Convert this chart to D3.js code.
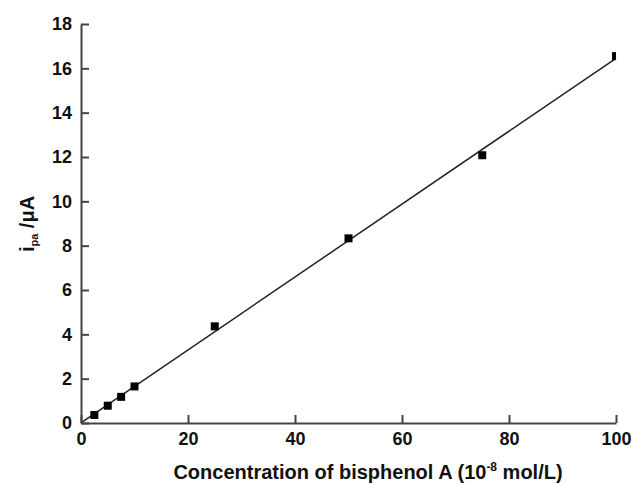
<!DOCTYPE html>
<html>
<head>
<meta charset="utf-8">
<script src="https://cdn.jsdelivr.net/npm/d3@7"></script>
<style>
  body { margin: 0; background: #fff; }
  svg { display: block; font-family: "Liberation Sans", Arial, sans-serif; }
</style>
</head>
<body>
<div id="chart"></div>
<script>
// concentration of bisphenol A (10^-8 mol/L)
const concentrations = [2.5, 5, 7.5, 10, 25, 50, 75, 100];
// anodic peak current (uA)
const currents = [0.36, 0.78, 1.18, 1.65, 4.36, 8.33, 12.08, 16.55];

const xTicks = [0, 20, 40, 60, 80, 100];
const yTicks = [0, 2, 4, 6, 8, 10, 12, 14, 16, 18];

const W = 636, H = 483;
const margin = { top: 24, right: 20, bottom: 60, left: 81 };
const width = W - margin.left - margin.right;
const height = H - margin.top - margin.bottom;

const svg = d3.select('#chart').append('svg')
    .attr('width', W).attr('height', H);

const g = svg.append('g')
    .attr('transform', `translate(${margin.left},${margin.top})`);

const x = d3.scaleLinear().domain([0, 100]).range([0, width]);
const y = d3.scaleLinear().domain([0, 18]).range([height, 0]);

// clip so the last marker is cut at the frame edge like the original
svg.append('defs').append('clipPath').attr('id', 'plot-clip')
    .append('rect').attr('x', 0).attr('y', -10).attr('width', width).attr('height', height + 10);

// least squares fit through the points
const mx = d3.mean(concentrations), my = d3.mean(currents);
let sxy = 0, sxx = 0;
concentrations.forEach((c, i) => { sxy += (c - mx) * (currents[i] - my); sxx += (c - mx) ** 2; });
const slope = sxy / sxx, intercept = my - slope * mx;

g.append('line')
    .attr('x1', x(0)).attr('y1', y(intercept))
    .attr('x2', x(100)).attr('y2', y(intercept + slope * 100))
    .attr('stroke', '#222').attr('stroke-width', 1.5);

g.append('g').attr('clip-path', 'url(#plot-clip)')
  .selectAll('rect.pt')
  .data(concentrations)
  .join('rect')
    .attr('class', 'pt')
    .attr('x', d => x(d) - 4)
    .attr('y', (d, i) => y(currents[i]) - 4)
    .attr('width', 8).attr('height', 8)
    .attr('fill', '#000');

// axes, ticks pointing inward
const xAxis = g.append('g')
    .attr('transform', `translate(0,${height})`)
    .call(d3.axisBottom(x).tickValues(xTicks).tickSizeInner(-8).tickSizeOuter(0).tickPadding(9));
const yAxis = g.append('g')
    .call(d3.axisLeft(y).tickValues(yTicks).tickSizeInner(-8).tickSizeOuter(0).tickPadding(9));

[xAxis, yAxis].forEach(ax => {
  ax.select('.domain').attr('stroke', '#444').attr('stroke-width', 2);
  ax.selectAll('.tick line').attr('stroke', '#444').attr('stroke-width', 2);
  ax.selectAll('.tick text')
    .attr('fill', '#111')
    .attr('font-size', 18)
    .attr('font-weight', 'bold')
    .attr('font-family', '"Liberation Sans", Arial, sans-serif');
});

// x title (sits a little right of the plot centre in the original)
const xt = svg.append('text')
    .attr('x', 368)
    .attr('y', 479)
    .attr('text-anchor', 'middle')
    .attr('font-size', 20)
    .attr('font-weight', 'bold')
    .attr('fill', '#111');
xt.append('tspan').text('Concentration of bisphenol A (10');
xt.append('tspan').attr('font-size', 12).attr('dy', -8).text('-8');
xt.append('tspan').attr('dy', 8).text(' mol/L)');

// y title
const yt = svg.append('text')
    .attr('transform', `translate(34,${margin.top + 200}) rotate(-90)`)
    .attr('text-anchor', 'middle')
    .attr('font-size', 20)
    .attr('font-weight', 'bold')
    .attr('fill', '#111');
yt.append('tspan').text('i');
yt.append('tspan').attr('font-size', 11).attr('dy', 4).text('pa');
yt.append('tspan').attr('dy', -4).text(' /μA');
</script>
</body>
</html>
